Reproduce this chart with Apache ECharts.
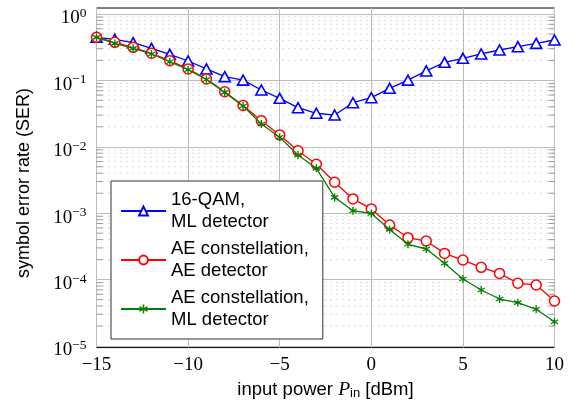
<!DOCTYPE html>
<html>
<head>
<meta charset="utf-8">
<script src="https://cdn.jsdelivr.net/npm/echarts@6/dist/echarts.min.js"></script>
<style>html,body{margin:0;padding:0;background:#fff}#c{width:573px;height:405px}</style>
</head>
<body>
<div id="c"></div>
<script>
const xValues = [-15,-14,-13,-12,-11,-10,-9,-8,-7,-6,-5,-4,-3,-2,-1,0,1,2,3,4,5,6,7,8,9,10];
const qam16ML = [0.445,0.416,0.37,0.304,0.247,0.196,0.149,0.114,0.101,0.0717,0.0537,0.0388,0.032,0.0301,0.0461,0.055,0.076,0.101,0.139,0.187,0.215,0.25,0.287,0.322,0.361,0.406];
const aeAE = [0.445,0.374,0.315,0.256,0.198,0.149,0.105,0.0676,0.042,0.0247,0.0151,0.0087,0.00545,0.00292,0.00164,0.00116,0.000664,0.000428,0.000381,0.000248,0.000197,0.000153,0.000124,8.8e-5,8.3e-5,4.76e-5];
const aeML = [0.445,0.361,0.304,0.25,0.191,0.145,0.103,0.066,0.0411,0.022,0.0139,0.00753,0.00474,0.00173,0.00109,0.00099,0.00057,0.00034,0.000289,0.000176,0.000102,6.97e-5,5.1e-5,4.5e-5,3.57e-5,2.32e-5];
const seriesNames = ['16-QAM,\nML detector','AE constellation,\nAE detector','AE constellation,\nML detector'];
const xTicks = [-15,-10,-5,0,5,10];
const yMinorTicks = [2e-5,3e-5,4e-5,5e-5,6e-5,7e-5,8e-5,9e-5,
  2e-4,3e-4,4e-4,5e-4,6e-4,7e-4,8e-4,9e-4,
  2e-3,3e-3,4e-3,5e-3,6e-3,7e-3,8e-3,9e-3,
  2e-2,3e-2,4e-2,5e-2,6e-2,7e-2,8e-2,9e-2,
  0.2,0.3,0.4,0.5,0.6,0.7,0.8,0.9];
const X_MIN = -15, X_MAX = 10, Y_MIN = 1e-5, Y_MAX = 1;

function asteriskPath(){
  const w = 0.16, parts = [];
  [90, 30, 150].forEach(a => {
    const r = a * Math.PI / 180, c = Math.cos(r), s = Math.sin(r);
    const pts = [[-1,-w],[1,-w],[1,w],[-1,w]].map(([u,v]) => [(u*c - v*s).toFixed(3), (u*s + v*c).toFixed(3)]);
    parts.push('M' + pts.map(p => p.join(',')).join(' L') + ' Z');
  });
  return 'path://' + parts.join(' ');
}

const chart = echarts.init(document.getElementById('c'), null, {renderer:'canvas'});
const serif = 'Liberation Serif';
const sans = 'Liberation Sans';
const pairs = arr => xValues.map((x,i) => [x, arr[i]]);

chart.setOption({
  animation: false,
  backgroundColor: '#fff',
  grid: [
    {left: 96.5, right: 18.5, top: 14, bottom: 59},
    {left: 96.5, right: 18.5, top: 8, bottom: 55, show: true, borderColor: '#000', borderWidth: 1, backgroundColor: 'transparent'}
  ],
  xAxis: [
    {gridIndex: 0, type: 'value', min: X_MIN, max: X_MAX, show: false},
    {gridIndex: 1, type: 'value', min: X_MIN, max: X_MAX, interval: 5,
     axisLine: {show: false}, axisTick: {show: false},
     splitLine: {show: true, lineStyle: {color: '#bdbdbd', width: 1}},
     axisLabel: {margin: 8, color: '#000', fontFamily: serif, fontSize: 19,
       formatter: v => String(v).replace('-', '\u2212')},
     name: '{a|input power }{p|P}{s|in}{a| [dBm]}', nameLocation: 'middle', nameGap: 29,
     nameTextStyle: {rich: {
       a: {fontFamily: sans, fontSize: 18.5, color: '#000'},
       p: {fontFamily: serif, fontStyle: 'italic', fontSize: 19.5, color: '#000'},
       s: {fontFamily: sans, fontSize: 13, color: '#000', padding: [8,0,0,0]}
     }}
    }
  ],
  yAxis: [
    {gridIndex: 0, type: 'log', logBase: 10, min: Y_MIN, max: Y_MAX, splitNumber: 5,
     axisLine: {show: false}, axisTick: {show: false},
     splitLine: {show: true, lineStyle: {color: '#bdbdbd', width: 1}},
     axisLabel: {margin: 10, padding: [9,0,0,0], formatter: v => {
        const e = Math.round(Math.log10(v));
        return '{b|10}{s|' + (e < 0 ? '\u2212' + (-e) : String(e)) + '}';
      }, rich: {
        b: {fontFamily: serif, fontSize: 19, color: '#000', lineHeight: 24},
        s: {fontFamily: serif, fontSize: 13.5, color: '#000', lineHeight: 12, verticalAlign: 'top'}
      }},
     name: 'symbol error rate (SER)', nameLocation: 'middle', nameRotate: 90, nameGap: 63,
     nameTextStyle: {fontFamily: sans, fontSize: 18, color: '#000', padding: [0,6,0,0]}
    },
    {gridIndex: 1, type: 'value', min: 0, max: 1, show: false}
  ],
  legend: {
    left: 111, top: 181, orient: 'vertical', selectedMode: false,
    backgroundColor: '#fff', borderColor: '#333', borderWidth: 1, borderRadius: 0,
    padding: [8, 14, 8, 9], itemGap: 5, itemWidth: 45, itemHeight: 11,
    textStyle: {fontFamily: sans, fontSize: 18.5, lineHeight: 22, color: '#000'},
    data: seriesNames
  },
  series: [
    {type: 'custom', xAxisIndex: 0, yAxisIndex: 0, silent: true, z: 1,
     data: yMinorTicks.map(v => [X_MIN, v]),
     renderItem: (params, api) => {
       const v = api.value(1);
       const p0 = api.coord([X_MIN, v]);
       const p1 = api.coord([X_MAX, v]);
       return {type: 'group', children: [
         {type: 'line', shape: {x1: p0[0], y1: p0[1], x2: p1[0], y2: p1[1]}, style: {stroke: '#b8b8b8', lineWidth: 1, lineDash: [1, 5]}},
         {type: 'line', shape: {x1: p0[0], y1: p0[1], x2: p0[0] + 6, y2: p0[1]}, style: {stroke: '#9a9a9a', lineWidth: 1}},
         {type: 'line', shape: {x1: p1[0] - 6, y1: p1[1], x2: p1[0], y2: p1[1]}, style: {stroke: '#9a9a9a', lineWidth: 1}}
       ]};
     }},
    {name: seriesNames[0], type: 'line', xAxisIndex: 0, yAxisIndex: 0, z: 3, data: pairs(qam16ML),
     color: '#0000ff', symbol: 'triangle', symbolSize: [11, 10],
     lineStyle: {color: '#0000ff', width: 1.3},
     itemStyle: {color: '#fff', borderColor: '#0000ff', borderWidth: 1.6}},
    {name: seriesNames[1], type: 'line', xAxisIndex: 0, yAxisIndex: 0, z: 4, data: pairs(aeAE),
     color: '#ff0000', symbol: 'circle', symbolSize: 10,
     lineStyle: {color: '#ff0000', width: 1.3},
     itemStyle: {color: '#fff', borderColor: '#ff0000', borderWidth: 1.5}},
    {name: seriesNames[2], type: 'line', xAxisIndex: 0, yAxisIndex: 0, z: 5, data: pairs(aeML),
     color: '#008000', symbol: asteriskPath(), symbolSize: 8,
     lineStyle: {color: '#008000', width: 1.3},
     itemStyle: {color: '#008000'}}
  ]
});
</script>
</body>
</html>
